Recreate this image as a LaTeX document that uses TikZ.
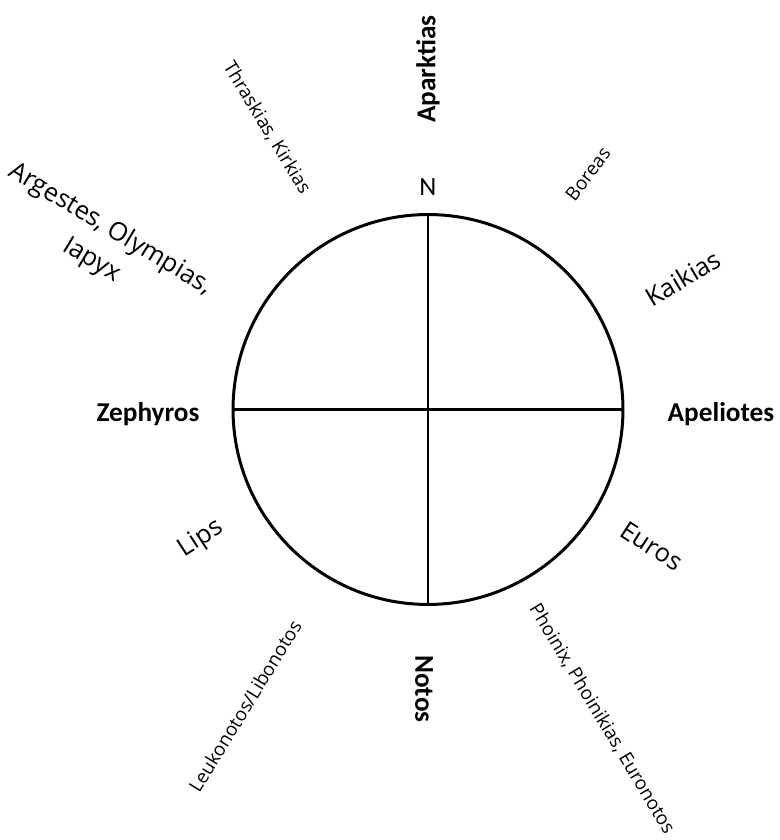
\documentclass[tikz,border=0pt]{standalone}
\usepackage{fontspec}
\setmainfont{Carlito}
\newfontfamily\windfont{Open Sans}

\begin{document}
\begin{tikzpicture}[x=0.02cm, y=-0.02cm,
    main/.style={font=\fontsize{15.5}{18}\selectfont\bfseries},
    big/.style={font=\windfont\fontsize{14.5}{20.5}\selectfont},
    small/.style={font=\windfont\fontsize{10.7}{13}\selectfont}]
    \useasboundingbox (0,0) rectangle (780,840);
    \node[draw, circle, line width=1.7pt, minimum size=7.8cm, inner sep=0pt, outer sep=0pt] (rose) at (428,409.5) {};
    \draw[line width=1.7pt] (rose.north) -- (rose.south);
    \draw[line width=1.7pt] (rose.west) -- (rose.east);
    \node[font=\fontsize{15}{18}\selectfont] (N) at (428,187) {N};
    \node[main, rotate=90] (aparktias) at (428,69) {Aparktias};
    \node[main] (zephyros) at (148,414) {Zephyros};
    \node[main] (apeliotes) at (721,414) {Apeliotes};
    \node[main, rotate=-90] (notos) at (424,689) {Notos};
    \node[small, rotate=-58.6] (thraskias) at (267,128) {Thraskias, Kirkias};
    \node[small, rotate=53] (boreas) at (588,174) {Boreas};
    \node[small, rotate=58.4] (leukonotos) at (245,706) {Leukonotos/Libonotos};
    \node[small, rotate=-59] (phoinix) at (602,719) {Phoinix, Phoinikias, Euronotos};
    \node[big, rotate=-31, align=center] (argestes) at (101,245) {Argestes, Olympias,\\Iapyx};
    \node[big, rotate=30.5] (kaikias) at (683,278) {Kaikias};
    \node[big, rotate=33] (lips) at (201,539) {Lips};
    \node[big, rotate=-33] (euros) at (652,546) {Euros};
\end{tikzpicture}
\end{document}
